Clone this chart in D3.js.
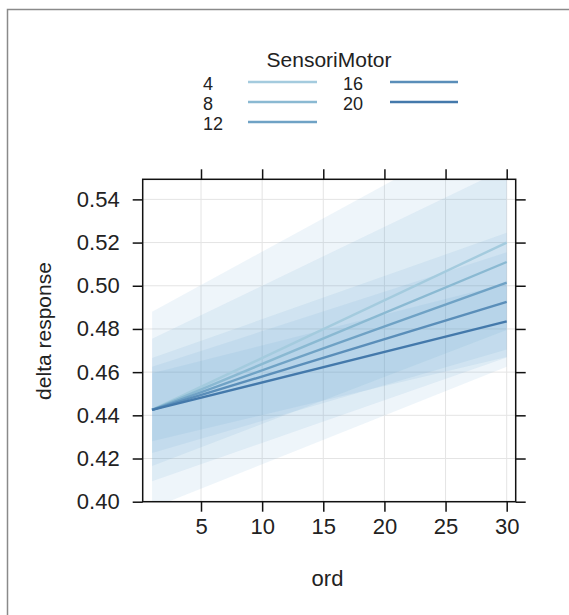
<!DOCTYPE html>
<html>
<head>
<meta charset="utf-8">
<script src="https://cdn.jsdelivr.net/npm/d3@7"></script>
<style>
  html, body { margin: 0; padding: 0; background: #fff; }
  svg { display: block; font-family: "Liberation Sans", Arial, sans-serif; }
</style>
</head>
<body>
<svg id="chart" width="569" height="615"></svg>
<script>
// ---- data ----
const ordEnds = [1, 30];
const sensoriMotor = ["4", "8", "12", "16", "20"];
const fitAt1    = [0.4425, 0.4425, 0.4425, 0.4425, 0.4425];
const fitAt30   = [0.5200, 0.5110, 0.5015, 0.4925, 0.4835];
const lowerAt1  = [0.3970, 0.4095, 0.4165, 0.4225, 0.4280];
const upperAt1  = [0.4880, 0.4755, 0.4665, 0.4625, 0.4595];
const lowerAt30 = [0.4625, 0.4668, 0.4795, 0.4705, 0.4670];
const upperAt30 = [0.5775, 0.5545, 0.5245, 0.5155, 0.5010];
const xTicks = [5, 10, 15, 20, 25, 30];
const yTicks = [0.40, 0.42, 0.44, 0.46, 0.48, 0.50, 0.52, 0.54];
const colors = ["#a4cbde", "#8ab9d2", "#6fa2c5", "#5a8eb9", "#4479ab"];

// ---- layout ----
const svg = d3.select("#chart");
const P = { left: 142.7, right: 515.7, top: 179.3, bottom: 501.7 };
const x = d3.scaleLinear().domain([0.232, 30.736]).range([P.left, P.right]);
const y = d3.scaleLinear().domain([0.40, 0.5493]).range([P.bottom, P.top]);

// outer frame
svg.append("path")
  .attr("d", `M7.5,620 L7.5,9.5 L575,9.5`)
  .attr("fill", "none").attr("stroke", "#8a8a8a").attr("stroke-width", 1.5);

// clip
svg.append("defs").append("clipPath").attr("id", "clip")
  .append("rect").attr("x", P.left).attr("y", P.top)
  .attr("width", P.right - P.left).attr("height", P.bottom - P.top);

// grid
const grid = svg.append("g").attr("stroke", "#e4e4e4").attr("stroke-width", 1);
xTicks.forEach(t => grid.append("line")
  .attr("x1", x(t)).attr("x2", x(t)).attr("y1", P.top).attr("y2", P.bottom));
yTicks.forEach(t => grid.append("line")
  .attr("x1", P.left).attr("x2", P.right).attr("y1", y(t)).attr("y2", y(t)));

// bands
const series = sensoriMotor.map((s, i) => ({
  key: s, color: colors[i],
  pts: ordEnds.map((o, j) => ({
    o,
    fit: j === 0 ? fitAt1[i] : fitAt30[i],
    lo: j === 0 ? lowerAt1[i] : lowerAt30[i],
    hi: j === 0 ? upperAt1[i] : upperAt30[i]
  }))
}));

const area = d3.area().x(d => x(d.o)).y0(d => y(d.lo)).y1(d => y(d.hi));
const line = d3.line().x(d => x(d.o)).y(d => y(d.fit));

const plot = svg.append("g").attr("clip-path", "url(#clip)");
plot.selectAll("path.band").data(series).join("path")
  .attr("class", "band")
  .attr("d", d => area(d.pts))
  .attr("fill", "#4f97cf").attr("fill-opacity", 0.095);

plot.selectAll("path.fit").data(series).join("path")
  .attr("class", "fit")
  .attr("d", d => line(d.pts))
  .attr("fill", "none").attr("stroke", d => d.color).attr("stroke-width", 2.4);

// panel border
svg.append("rect").attr("x", P.left).attr("y", P.top)
  .attr("width", P.right - P.left).attr("height", P.bottom - P.top)
  .attr("fill", "none").attr("stroke", "#111").attr("stroke-width", 1.5);

// axes (ticks outward on all sides)
const tickStyle = g => {
  g.select(".domain").remove();
  g.selectAll(".tick line").attr("stroke", "#111").attr("stroke-width", 1.5);
  g.selectAll(".tick text").attr("fill", "#222").attr("font-size", 22)
   .attr("font-family", "Liberation Sans, Arial, sans-serif");
};
svg.append("g").attr("transform", `translate(0,${P.bottom})`)
  .call(d3.axisBottom(x).tickValues(xTicks).tickSize(10).tickPadding(7))
  .call(tickStyle);
svg.append("g").attr("transform", `translate(0,${P.top})`)
  .call(d3.axisTop(x).tickValues(xTicks).tickSize(10).tickFormat(""))
  .call(tickStyle);
svg.append("g").attr("transform", `translate(${P.left},0)`)
  .call(d3.axisLeft(y).tickValues(yTicks).tickSize(10).tickPadding(13).tickFormat(d3.format(".2f")))
  .call(tickStyle);
svg.append("g").attr("transform", `translate(${P.right},0)`)
  .call(d3.axisRight(y).tickValues(yTicks).tickSize(10).tickFormat(""))
  .call(tickStyle);

// axis titles
svg.append("text").attr("x", 327.5).attr("y", 586)
  .attr("text-anchor", "middle").attr("font-size", 22).attr("fill", "#222").text("ord");
svg.append("text").attr("transform", "translate(51,331) rotate(-90)")
  .attr("text-anchor", "middle").attr("font-size", 21).attr("fill", "#222").text("delta response");

// legend
svg.append("text").attr("x", 329).attr("y", 67)
  .attr("text-anchor", "middle").attr("font-size", 21).attr("fill", "#222").text("SensoriMotor");
const legCols = [
  { tx: 203, l1: 248, l2: 317 },
  { tx: 343, l1: 390, l2: 458 }
];
const leg = svg.append("g");
series.forEach((s, i) => {
  const col = legCols[Math.floor(i / 3)];
  const row = i % 3;
  const yy = 82 + row * 20;
  leg.append("text").attr("x", col.tx).attr("y", yy + 7.5)
    .attr("font-size", 18).attr("fill", "#222").text(s.key);
  leg.append("line").attr("x1", col.l1).attr("x2", col.l2)
    .attr("y1", yy).attr("y2", yy)
    .attr("stroke", s.color).attr("stroke-width", 2.6);
});
</script>
</body>
</html>
